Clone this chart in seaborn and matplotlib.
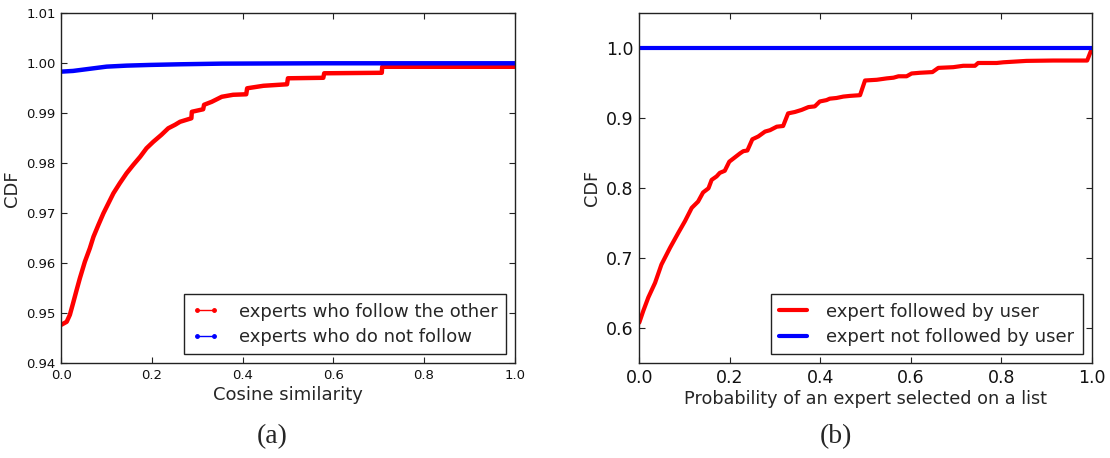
import matplotlib
matplotlib.use("Agg")
import matplotlib.pyplot as plt
from matplotlib.lines import Line2D
import numpy as np
import pandas as pd
import seaborn as sns

# ---- panel (a): cosine similarity CDF ----
cos_follow_x = [0.0, 0.012, 0.019, 0.026, 0.034, 0.041, 0.052, 0.063, 0.071, 0.082,
                0.093, 0.104, 0.115, 0.129, 0.144, 0.159, 0.174, 0.188, 0.203, 0.221,
                0.236, 0.251, 0.262, 0.287, 0.288, 0.313, 0.315, 0.332, 0.354, 0.379,
                0.408, 0.410, 0.446, 0.498, 0.500, 0.578, 0.580, 0.707, 0.708, 1.0]
cos_follow_cdf = [0.9477, 0.9483, 0.9497, 0.9520, 0.9547, 0.9570, 0.9603, 0.9630, 0.9653, 0.9677,
                  0.9700, 0.9720, 0.9740, 0.9760, 0.9780, 0.9797, 0.9813, 0.9830, 0.9843, 0.9857,
                  0.9870, 0.9877, 0.9883, 0.9890, 0.9903, 0.9908, 0.9917, 0.9923, 0.9933, 0.9937,
                  0.9938, 0.9950, 0.9955, 0.9958, 0.9970, 0.9971, 0.9980, 0.9981, 0.9993, 0.9993]
cos_nofollow_x = [0.0, 0.026, 0.063, 0.10, 0.144, 0.196, 0.262, 0.354, 0.578, 1.0]
cos_nofollow_cdf = [0.99833, 0.99847, 0.9989, 0.99933, 0.99953, 0.99967, 0.9998, 0.99993, 1.0, 1.0]

# ---- panel (b): probability of selection on a list ----
prob_followed_x = [0.0, 0.009, 0.020, 0.035, 0.049, 0.068, 0.086, 0.101, 0.116, 0.130,
                   0.141, 0.153, 0.160, 0.171, 0.178, 0.189, 0.199, 0.211, 0.223, 0.230,
                   0.239, 0.250, 0.263, 0.278, 0.289, 0.304, 0.318, 0.329, 0.344, 0.359,
                   0.374, 0.388, 0.399, 0.414, 0.421, 0.436, 0.451, 0.466, 0.488, 0.499,
                   0.525, 0.547, 0.562, 0.573, 0.591, 0.602, 0.620, 0.648, 0.661, 0.694,
                   0.716, 0.742, 0.749, 0.790, 0.805, 0.856, 0.915, 0.990, 1.0]
prob_followed_cdf = [0.608, 0.625, 0.644, 0.665, 0.691, 0.715, 0.736, 0.753, 0.772, 0.781,
                     0.794, 0.800, 0.812, 0.817, 0.822, 0.825, 0.838, 0.844, 0.850, 0.853,
                     0.854, 0.870, 0.874, 0.881, 0.883, 0.888, 0.889, 0.907, 0.909, 0.912,
                     0.916, 0.917, 0.924, 0.926, 0.928, 0.929, 0.931, 0.932, 0.933, 0.954,
                     0.955, 0.957, 0.958, 0.960, 0.960, 0.964, 0.965, 0.966, 0.972, 0.973,
                     0.975, 0.975, 0.979, 0.979, 0.980, 0.982, 0.9825, 0.9825, 0.999]
prob_notfollowed_x = [0.0, 1.0]
prob_notfollowed_cdf = [1.0, 1.0]

labels_a = ["experts who follow the other", "experts who do not follow"]
labels_b = ["expert followed by user", "expert not followed by user"]
xticks = [0.0, 0.2, 0.4, 0.6, 0.8, 1.0]
yticks_a = [0.94, 0.95, 0.96, 0.97, 0.98, 0.99, 1.00, 1.01]
yticks_b = [0.6, 0.7, 0.8, 0.9, 1.0]

RED = "#ff0000"
BLUE = "#0000ff"

sns.set_style("white")
plt.rcParams["font.family"] = ["DejaVu Sans"]

fig = plt.figure(figsize=(11.1, 4.58), dpi=100)
ax_a = fig.add_axes([0.0552, 0.2068, 0.4084, 0.7642])
ax_b = fig.add_axes([0.5759, 0.2068, 0.4076, 0.7642])

def style_axes(ax, tick_size):
    for sp in ax.spines.values():
        sp.set_visible(True)
        sp.set_color("#222222")
        sp.set_linewidth(1.0)
    ax.tick_params(direction="in", length=4, width=0.8, colors="#222222",
                   labelcolor="#111111", top=True, right=True, bottom=True, left=True,
                   labelsize=tick_size, pad=4)

def add_legend(ax, handles, labels, **kw):
    leg = ax.legend(handles, labels, loc="lower right", fontsize=13,
                    frameon=True, fancybox=False, edgecolor="#222222", framealpha=1,
                    handlelength=1.55, handletextpad=1.05, borderpad=0.45,
                    labelspacing=0.42, borderaxespad=0.5, **kw)
    leg.get_frame().set_linewidth(1.0)
    return leg

# panel (a)
df_a1 = pd.DataFrame({"x": cos_follow_x, "y": cos_follow_cdf})
df_a2 = pd.DataFrame({"x": cos_nofollow_x, "y": cos_nofollow_cdf})
sns.lineplot(data=df_a1, x="x", y="y", ax=ax_a, color=RED, linewidth=3.2,
             sort=False, estimator=None, legend=False)
sns.lineplot(data=df_a2, x="x", y="y", ax=ax_a, color=BLUE, linewidth=3.2,
             sort=False, estimator=None, legend=False)
ax_a.set_xlim(0, 1)
ax_a.set_ylim(0.94, 1.01)
ax_a.set_xticks(xticks)
ax_a.set_yticks(yticks_a)
ax_a.set_xticklabels([f"{t:.1f}" for t in xticks])
ax_a.set_yticklabels([f"{t:.2f}" for t in yticks_a])
style_axes(ax_a, 9.5)
ax_a.set_xlabel("Cosine similarity", fontsize=13, labelpad=3)
ax_a.set_ylabel("CDF", fontsize=13, labelpad=4)
handles_a = [Line2D([0], [0], color=RED, lw=1, marker=".", ms=5),
             Line2D([0], [0], color=BLUE, lw=1, marker=".", ms=5)]
add_legend(ax_a, handles_a, labels_a, numpoints=2)

# panel (b)
df_b1 = pd.DataFrame({"x": prob_followed_x, "y": prob_followed_cdf})
df_b2 = pd.DataFrame({"x": prob_notfollowed_x, "y": prob_notfollowed_cdf})
sns.lineplot(data=df_b1, x="x", y="y", ax=ax_b, color=RED, linewidth=3.0,
             sort=False, estimator=None, legend=False)
sns.lineplot(data=df_b2, x="x", y="y", ax=ax_b, color=BLUE, linewidth=3.0,
             sort=False, estimator=None, legend=False)
ax_b.set_xlim(0, 1)
ax_b.set_ylim(0.55, 1.05)
ax_b.set_xticks(xticks)
ax_b.set_yticks(yticks_b)
ax_b.set_xticklabels([f"{t:.1f}" for t in xticks])
ax_b.set_yticklabels([f"{t:.1f}" for t in yticks_b])
style_axes(ax_b, 12.5)
ax_b.set_xlabel("Probability of an expert selected on a list", fontsize=12.7, labelpad=2)
ax_b.set_ylabel("CDF", fontsize=12.7, labelpad=4)
handles_b = [Line2D([0], [0], color=RED, lw=3), Line2D([0], [0], color=BLUE, lw=3)]
add_legend(ax_b, handles_b, labels_b)

# sub-figure captions
fig.text(272 / 1110, 1 - 437 / 458, "(a)", ha="center", va="center",
         fontsize=20, family=["Liberation Serif"])
fig.text(836 / 1110, 1 - 437 / 458, "(b)", ha="center", va="center",
         fontsize=20, family=["Liberation Serif"])

fig.savefig("out.png", dpi=100, facecolor="white")
